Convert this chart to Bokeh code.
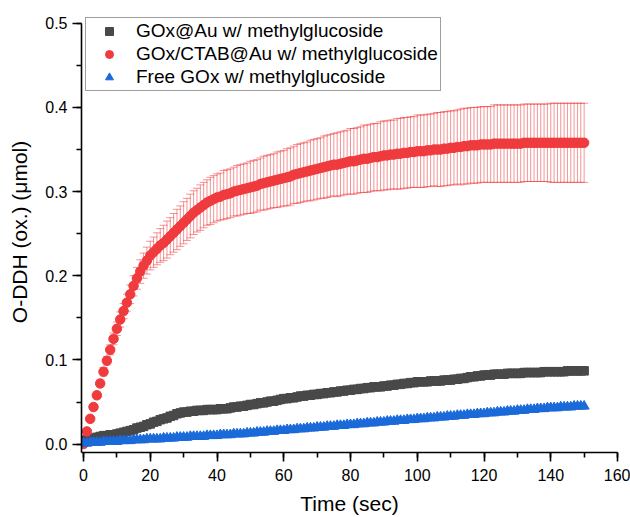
from bokeh.plotting import figure
from bokeh.models import (Range1d, ColumnDataSource, Whisker,
                          TeeHead, Legend, LegendItem, NumeralTickFormatter)
from bokeh.embed import file_html
from bokeh.resources import INLINE

FONT = "Liberation Sans"

time_sec = list(range(0, 151))

gox_au = [
    0.004, 0.005, 0.006, 0.007, 0.008, 0.009, 0.010, 0.010, 0.011, 0.011,
    0.012, 0.013, 0.014, 0.015, 0.016, 0.017, 0.019, 0.020, 0.021, 0.023,
    0.024, 0.026, 0.027, 0.029, 0.030, 0.031, 0.033, 0.034, 0.036, 0.037,
    0.038, 0.038, 0.039, 0.039, 0.040, 0.040, 0.040, 0.041, 0.041, 0.041,
    0.041, 0.042, 0.042, 0.042, 0.043, 0.044, 0.044, 0.045, 0.045, 0.046,
    0.047, 0.047, 0.048, 0.049, 0.049, 0.050, 0.051, 0.051, 0.052, 0.053,
    0.054, 0.054, 0.055, 0.055, 0.056, 0.057, 0.057, 0.058, 0.058, 0.059,
    0.059, 0.060, 0.060, 0.061, 0.061, 0.062, 0.062, 0.063, 0.063, 0.064,
    0.064, 0.065, 0.065, 0.066, 0.066, 0.067, 0.067, 0.068, 0.068, 0.068,
    0.069, 0.069, 0.070, 0.070, 0.071, 0.071, 0.072, 0.072, 0.073, 0.073,
    0.074, 0.074, 0.074, 0.074, 0.075, 0.075, 0.075, 0.075, 0.076, 0.076,
    0.076, 0.077, 0.077, 0.078, 0.078, 0.079, 0.080, 0.080, 0.081, 0.081,
    0.082, 0.082, 0.082, 0.083, 0.083, 0.083, 0.083, 0.084, 0.084, 0.084,
    0.084, 0.084, 0.085, 0.085, 0.085, 0.085, 0.085, 0.085, 0.086, 0.086,
    0.086, 0.086, 0.086, 0.086, 0.086, 0.087, 0.087, 0.087, 0.087, 0.087,
    0.087,
]

gox_ctab_au = [
    0.000, 0.015, 0.030, 0.044, 0.058, 0.072, 0.086, 0.099, 0.112, 0.125,
    0.137, 0.148, 0.158, 0.168, 0.178, 0.188, 0.197, 0.205, 0.212, 0.218,
    0.224, 0.228, 0.232, 0.236, 0.239, 0.243, 0.247, 0.251, 0.255, 0.259,
    0.263, 0.267, 0.271, 0.275, 0.278, 0.281, 0.284, 0.287, 0.289, 0.291,
    0.293, 0.294, 0.296, 0.297, 0.298, 0.300, 0.301, 0.302, 0.303, 0.304,
    0.305, 0.306, 0.307, 0.309, 0.310, 0.311, 0.312, 0.313, 0.314, 0.315,
    0.316, 0.317, 0.318, 0.320, 0.321, 0.322, 0.323, 0.324, 0.325, 0.326,
    0.327, 0.328, 0.329, 0.330, 0.331, 0.332, 0.332, 0.333, 0.334, 0.335,
    0.336, 0.336, 0.337, 0.338, 0.339, 0.339, 0.340, 0.341, 0.341, 0.342,
    0.343, 0.343, 0.344, 0.344, 0.345, 0.345, 0.346, 0.346, 0.347, 0.347,
    0.348, 0.348, 0.348, 0.349, 0.349, 0.350, 0.350, 0.350, 0.351, 0.351,
    0.352, 0.352, 0.353, 0.353, 0.354, 0.354, 0.355, 0.355, 0.355, 0.356,
    0.356, 0.356, 0.356, 0.357, 0.357, 0.357, 0.357, 0.357, 0.357, 0.357,
    0.357, 0.357, 0.358, 0.358, 0.358, 0.358, 0.358, 0.358, 0.358, 0.358,
    0.358, 0.358, 0.358, 0.358, 0.358, 0.358, 0.358, 0.358, 0.358, 0.358,
    0.358,
]

gox_ctab_au_err = [
    0.002, 0.002, 0.003, 0.003, 0.004, 0.004, 0.005, 0.005, 0.006, 0.007,
    0.008, 0.009, 0.009, 0.010, 0.011, 0.012, 0.013, 0.014, 0.015, 0.016,
    0.017, 0.018, 0.019, 0.020, 0.021, 0.022, 0.022, 0.023, 0.024, 0.024,
    0.025, 0.025, 0.026, 0.026, 0.026, 0.027, 0.027, 0.027, 0.028, 0.028,
    0.028, 0.028, 0.029, 0.029, 0.029, 0.029, 0.030, 0.030, 0.030, 0.030,
    0.031, 0.031, 0.031, 0.031, 0.032, 0.032, 0.032, 0.032, 0.033, 0.033,
    0.033, 0.034, 0.034, 0.034, 0.035, 0.035, 0.035, 0.035, 0.036, 0.036,
    0.036, 0.036, 0.037, 0.037, 0.037, 0.037, 0.038, 0.038, 0.038, 0.038,
    0.039, 0.039, 0.039, 0.039, 0.040, 0.040, 0.040, 0.040, 0.040, 0.041,
    0.041, 0.041, 0.041, 0.041, 0.042, 0.042, 0.042, 0.042, 0.042, 0.042,
    0.043, 0.043, 0.043, 0.043, 0.043, 0.043, 0.044, 0.044, 0.044, 0.044,
    0.044, 0.044, 0.044, 0.045, 0.045, 0.045, 0.045, 0.045, 0.045, 0.045,
    0.045, 0.045, 0.045, 0.046, 0.046, 0.046, 0.046, 0.046, 0.046, 0.046,
    0.046, 0.046, 0.046, 0.046, 0.046, 0.046, 0.046, 0.046, 0.046, 0.046,
    0.047, 0.047, 0.047, 0.047, 0.047, 0.047, 0.047, 0.047, 0.047, 0.047,
    0.047,
]

free_gox = [
    0.001, 0.001, 0.002, 0.002, 0.002, 0.002, 0.003, 0.003, 0.003, 0.003,
    0.003, 0.004, 0.004, 0.004, 0.004, 0.005, 0.005, 0.005, 0.005, 0.006,
    0.006, 0.006, 0.006, 0.006, 0.007, 0.007, 0.007, 0.007, 0.008, 0.008,
    0.008, 0.008, 0.009, 0.009, 0.009, 0.009, 0.009, 0.010, 0.010, 0.010,
    0.010, 0.011, 0.011, 0.011, 0.011, 0.012, 0.012, 0.012, 0.012, 0.013,
    0.013, 0.013, 0.014, 0.014, 0.014, 0.015, 0.015, 0.015, 0.016, 0.016,
    0.016, 0.017, 0.017, 0.017, 0.018, 0.018, 0.018, 0.019, 0.019, 0.019,
    0.020, 0.020, 0.020, 0.021, 0.021, 0.021, 0.022, 0.022, 0.022, 0.023,
    0.023, 0.023, 0.024, 0.024, 0.024, 0.025, 0.025, 0.025, 0.026, 0.026,
    0.026, 0.027, 0.027, 0.027, 0.028, 0.028, 0.028, 0.029, 0.029, 0.029,
    0.030, 0.030, 0.030, 0.031, 0.031, 0.031, 0.032, 0.032, 0.032, 0.033,
    0.033, 0.033, 0.034, 0.034, 0.034, 0.035, 0.035, 0.035, 0.036, 0.036,
    0.036, 0.037, 0.037, 0.037, 0.038, 0.038, 0.038, 0.039, 0.039, 0.039,
    0.040, 0.040, 0.040, 0.041, 0.041, 0.041, 0.042, 0.042, 0.042, 0.043,
    0.043, 0.043, 0.043, 0.044, 0.044, 0.044, 0.044, 0.045, 0.045, 0.045,
    0.045,
]

series_labels = ["GOx@Au w/ methylglucoside",
                 "GOx/CTAB@Au w/ methylglucoside",
                 "Free GOx w/ methylglucoside"]
x_ticks = [0, 20, 40, 60, 80, 100, 120, 140, 160]
x_minor = [0, 10, 20, 30, 40, 50, 60, 70, 80, 90, 100, 110, 120, 130, 140, 150, 160]
y_ticks = [0.0, 0.1, 0.2, 0.3, 0.4, 0.5]
y_minor = [0.0, 0.05, 0.1, 0.15, 0.2, 0.25, 0.3, 0.35, 0.4, 0.45, 0.5]

GREY = "#494949"
RED = "#EF3A3E"
BLUE = "#1A6AD9"

p = figure(width=630, height=517, output_backend="svg", toolbar_location=None,
           x_range=Range1d(-0.6, 160), y_range=Range1d(-0.01, 0.514),
           min_border_left=81, min_border_right=13, min_border_top=11,
           min_border_bottom=65)
p.outline_line_color = None
p.grid.visible = False
p.background_fill_color = "white"

src_red = ColumnDataSource(dict(
    x=time_sec, y=gox_ctab_au,
    upper=[m + e for m, e in zip(gox_ctab_au, gox_ctab_au_err)],
    lower=[m - e for m, e in zip(gox_ctab_au, gox_ctab_au_err)],
))

r_grey = p.scatter(time_sec, gox_au, marker="square", size=8.5,
                   fill_color=GREY, line_color=GREY)

wh = Whisker(base="x", upper="upper", lower="lower", source=src_red,
             line_color=RED, line_alpha=0.55, line_width=1,
             upper_head=TeeHead(size=8, line_color=RED, line_alpha=0.55, line_width=1),
             lower_head=TeeHead(size=8, line_color=RED, line_alpha=0.55, line_width=1))
p.add_layout(wh)

r_red = p.scatter("x", "y", source=src_red, marker="circle", size=9.5,
                  fill_color=RED, line_color=RED)
r_blue = p.scatter(time_sec, free_gox, marker="triangle", size=10,
                   fill_color=BLUE, line_color=BLUE)

p.xaxis.ticker = x_ticks
p.yaxis.ticker = y_ticks
p.xaxis.ticker.minor_ticks = x_minor
p.yaxis.ticker.minor_ticks = y_minor
p.yaxis.formatter = NumeralTickFormatter(format="0.0")
p.yaxis.bounds = (-0.01, 0.5)

for ax in (p.xaxis[0], p.yaxis[0]):
    ax.axis_line_width = 1.6
    ax.axis_line_color = "black"
    ax.major_tick_line_width = 1.6
    ax.minor_tick_line_width = 1.6
    ax.major_tick_out = 9
    ax.major_tick_in = 0
    ax.minor_tick_out = 5
    ax.minor_tick_in = 0
    ax.major_label_text_font = FONT
    ax.major_label_text_font_size = "16px"
    ax.major_label_text_color = "black"
    ax.axis_label_text_font = FONT
    ax.axis_label_text_font_size = "21px"
    ax.axis_label_text_font_style = "normal"
    ax.axis_label_text_color = "black"

p.xaxis.axis_label = "Time (sec)"
p.yaxis.axis_label = "O-DDH (ox.) (\u03bcmol)"
p.xaxis.major_label_standoff = 7
p.yaxis.major_label_standoff = 5
p.xaxis.axis_label_standoff = 8
p.yaxis.axis_label_standoff = 11

legend = Legend(items=[LegendItem(label=series_labels[0], renderers=[r_grey]),
                       LegendItem(label=series_labels[1], renderers=[r_red]),
                       LegendItem(label=series_labels[2], renderers=[r_blue])],
                location=(4, 361), margin=0, padding=2, spacing=1,
                glyph_width=42, glyph_height=20, label_height=20,
                label_standoff=6,
                label_text_font=FONT, label_text_font_size="19px",
                label_text_color="black",
                border_line_color="#404040", border_line_width=1,
                background_fill_color="white", background_fill_alpha=1)
p.add_layout(legend)

open("out.html", "w").write(file_html(p, INLINE))
